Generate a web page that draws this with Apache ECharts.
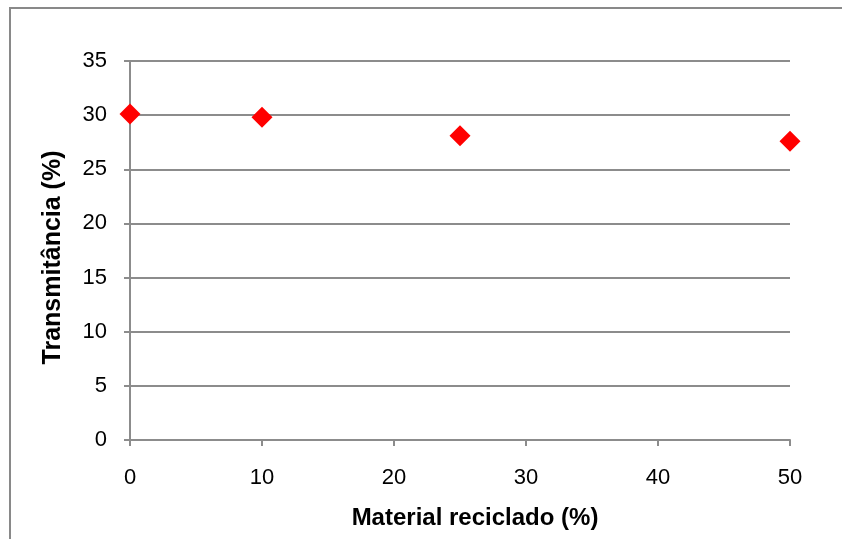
<!DOCTYPE html>
<html><head><meta charset="utf-8">
<script src="https://cdn.jsdelivr.net/npm/echarts@6/dist/echarts.min.js"></script>
<style>html,body{margin:0;padding:0;background:#fff}#c{width:842px;height:539px}</style>
</head><body><div id="c"></div>
<script>
const xValues = [0, 10, 25, 50];
const yValues = [30.1, 29.8, 28.1, 27.6];
const xTitle = 'Material reciclado (%)';
const yTitle = 'Transmitância (%)';

const chart = echarts.init(document.getElementById('c'));
const font = '"Liberation Sans", Arial, sans-serif';
chart.setOption({
  animation: false,
  graphic: [{type:'rect', shape:{x:10, y:8, width:850, height:560}, style:{fill:'none', stroke:'#898989', lineWidth:2}}],
  grid: {left:130, right:52, top:61, bottom:99},
  xAxis: {
    type:'value', min:0, max:50, interval:10,
    name: xTitle, nameLocation:'middle', nameGap:66,
    nameTextStyle:{fontFamily:font, fontWeight:'bold', fontSize:24, color:'#000', padding:[0,0,0,30]},
    axisLine:{show:true, onZero:false, lineStyle:{color:'#8c8c8c', width:2}},
    axisTick:{show:true, length:6, lineStyle:{color:'#8c8c8c', width:2}},
    splitLine:{show:false},
    axisLabel:{fontFamily:font, fontSize:22, color:'#000', margin:27}
  },
  yAxis: {
    type:'value', min:0, max:35, interval:5,
    name: yTitle, nameLocation:'middle', nameGap:64,
    nameTextStyle:{fontFamily:font, fontWeight:'bold', fontSize:25, color:'#000', padding:[0,14,0,0]},
    axisLine:{show:true, lineStyle:{color:'#8c8c8c', width:2}},
    axisTick:{show:true, length:6, lineStyle:{color:'#8c8c8c', width:2}},
    splitLine:{show:true, lineStyle:{color:'#8c8c8c', width:2}},
    axisLabel:{fontFamily:font, fontSize:22, color:'#000', margin:23}
  },
  series: [{
    type:'scatter',
    data: xValues.map((x,i)=>[x, yValues[i]]),
    symbol:'diamond', symbolSize:[21,21],
    itemStyle:{color:'#ff0000', opacity:1}
  }]
});
</script></body></html>
